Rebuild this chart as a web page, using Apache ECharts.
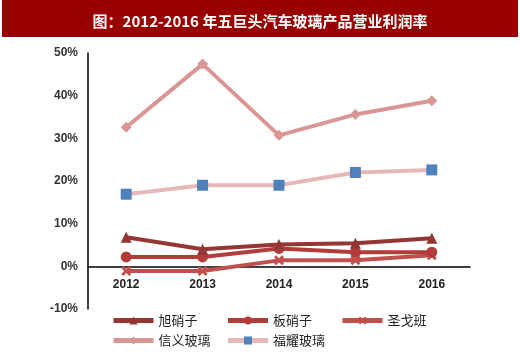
<!DOCTYPE html>
<html><head><meta charset="utf-8">
<script src="https://cdn.jsdelivr.net/npm/echarts@6/dist/echarts.min.js"></script>
<style>html,body{margin:0;padding:0;background:#fff}#c{width:520px;height:357px}</style>
</head><body><div id="c"></div>
<script>
const categories = ['2012','2013','2014','2015','2016'];
const asahi = [6.8, 4.0, 5.1, 5.4, 6.6];
const nsg = [2.2, 2.2, 4.2, 3.3, 3.3];
const saintGobain = [-1.1, -1.1, 1.4, 1.4, 2.6];
const xinyi = [32.6, 47.4, 30.7, 35.6, 38.8];
const fuyao = [16.9, 19.0, 19.0, 22.0, 22.6];
const names = ['旭硝子','板硝子','圣戈班','信义玻璃','福耀玻璃'];
const yTicks = {min: -10, max: 50, interval: 10};

const xPath = 'path://M0,2L2,0L5,3L8,0L10,2L7,5L10,8L8,10L5,7L2,10L0,8L3,5Z';
const chart = echarts.init(document.getElementById('c'));
const mk = (name, data, color, symbol, size, symColor) => ({
  name, type: 'line', data, symbol, symbolSize: size,
  lineStyle: {color, width: 4},
  itemStyle: {color: symColor || color},
  emphasis: {disabled: true}, animation: false
});
const legendText = {fontSize: 13, color: '#222', fontFamily: 'Noto Sans CJK SC'};
chart.setOption({
  animation: false,
  graphic: [{type: 'rect', shape: {x: 2, y: 0, width: 516, height: 37}, style: {fill: '#990000'}}],
  title: {text: '图：2012-2016 年五巨头汽车玻璃产品营业利润率', left: 'center', top: 9,
    textStyle: {color: '#fff', fontSize: 15, fontWeight: 'bold', fontFamily: 'Noto Sans CJK SC'}},
  grid: {left: 88, right: 50, top: 53, bottom: 48, containLabel: false},
  xAxis: [
    {type: 'category', data: categories, boundaryGap: true,
      axisLine: {onZero: true, lineStyle: {color: '#000', width: 1.5}},
      axisTick: {show: false}, axisLabel: {show: false}},
    {type: 'category', data: categories, boundaryGap: true, position: 'bottom', offset: -43,
      axisLine: {show: false}, axisTick: {show: false},
      axisLabel: {color: '#222', fontWeight: 'bold', fontSize: 12, fontFamily: 'Liberation Sans', margin: 13}}
  ],
  yAxis: {type: 'value', min: yTicks.min, max: yTicks.max, interval: yTicks.interval,
    splitLine: {show: false},
    axisLine: {show: true, lineStyle: {color: '#000', width: 1.5}},
    axisTick: {show: false},
    axisLabel: {formatter: '{value}%', color: '#333', fontWeight: 'bold', fontSize: 12, fontFamily: 'Liberation Sans', margin: 10}},
  legend: [
    {data: names.slice(0,3), left: 106, top: 309, itemWidth: 40, itemHeight: 10, itemGap: 28,
      lineStyle: {width: 5}, textStyle: legendText},
    {data: names.slice(3), left: 106, top: 329, itemWidth: 40, itemHeight: 10, itemGap: 15,
      lineStyle: {width: 5}, textStyle: legendText}
  ],
  series: [
    mk(names[3], xinyi, '#d99694', 'diamond', 11),
    mk(names[4], fuyao, '#e6b9b8', 'rect', 11, '#4f81bd'),
    mk(names[2], saintGobain, '#c0504d', xPath, 10),
    mk(names[1], nsg, '#b23c3a', 'circle', 11),
    mk(names[0], asahi, '#943634', 'triangle', 11)
  ]
});
</script></body></html>
